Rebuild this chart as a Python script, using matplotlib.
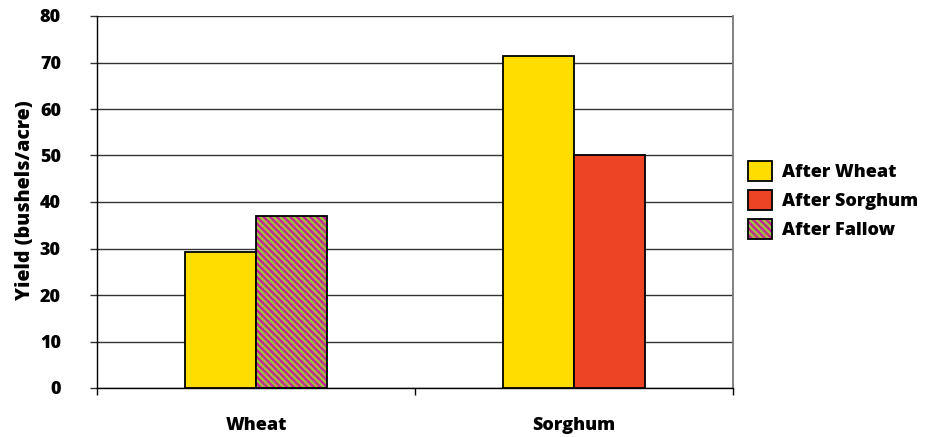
import numpy as np
import matplotlib
matplotlib.use("Agg")
import matplotlib.pyplot as plt
from matplotlib.patches import Patch
from matplotlib.legend_handler import HandlerTuple

categories = ["Wheat", "Sorghum"]
after_wheat = [29.3, 71.4]
after_sorghum = [np.nan, 50.1]
after_fallow = [37.0, np.nan]
series_names = ["After Wheat", "After Sorghum", "After Fallow"]
yticks = [0, 10, 20, 30, 40, 50, 60, 70, 80]

yellow = "#FFDD00"
red = "#EE4426"
green = "#9CCB3B"
magenta = "#C41E9A"
hatch = "\\" * 5

plt.rcParams["font.family"] = ["Open Sans", "DejaVu Sans"]
plt.rcParams["font.weight"] = 800
plt.rcParams["hatch.linewidth"] = 1.7

fig = plt.figure(figsize=(9.36, 4.37), dpi=100)
ax = fig.add_axes([97 / 936, 49 / 437, 636 / 936, 372 / 437])

x = np.arange(len(categories))
w = 0.222

ax.bar(x - w / 2, after_wheat, w, color=yellow, edgecolor="black", linewidth=1.3, zorder=3)
ax.bar(x + w / 2, after_sorghum, w, color=red, edgecolor="black", linewidth=1.3, zorder=3)
# hatched fill first, then black outline over it
ax.bar(x + w / 2, after_fallow, w, color=green, edgecolor=magenta, hatch=hatch,
       linewidth=0, zorder=3)
ax.bar(x + w / 2, after_fallow, w, facecolor="none", edgecolor="black", linewidth=1.3, zorder=4)

ax.set_xlim(-0.5, len(categories) - 0.5)
ax.set_ylim(0, 80)
ax.set_yticks(yticks)
ax.set_yticklabels([str(t) for t in yticks], fontsize=13, fontweight=800)
ax.set_xticks(x)
ax.set_xticklabels(categories, fontsize=13, fontweight=800)
ax.set_xticks(np.arange(-0.5, len(categories), 1.0), minor=True)
ax.tick_params(axis="x", which="major", length=0, pad=21)
ax.tick_params(axis="x", which="minor", length=5, width=1, direction="out", color="black")
ax.tick_params(axis="y", length=5, width=1, direction="out", pad=21, color="#333333")

ax.grid(axis="y", color="#333333", linewidth=1, zorder=0)
ax.set_axisbelow(True)
ax.spines["top"].set_visible(False)
ax.spines["right"].set_color("#777777")
ax.spines["right"].set_linewidth(1.3)
ax.spines["left"].set_linewidth(1)
ax.spines["bottom"].set_linewidth(1)

ax.set_ylabel("Yield (bushels/acre)", fontsize=14, fontweight=800)
ax.yaxis.set_label_coords(-0.097, 0.505)

handles = [
    Patch(facecolor=yellow, edgecolor="black", linewidth=1.3),
    Patch(facecolor=red, edgecolor="black", linewidth=1.3),
    (Patch(facecolor=green, edgecolor=magenta, hatch=hatch, linewidth=0),
     Patch(facecolor="none", edgecolor="black", linewidth=1.3)),
]
fig.legend(handles, series_names, loc="center left",
           bbox_to_anchor=(748 / 936, (437 - 200) / 437),
           frameon=False, prop={"weight": 800, "size": 13},
           handlelength=1.33, handleheight=1.33, handletextpad=0.55,
           labelspacing=0.5, borderpad=0, borderaxespad=0,
           handler_map={tuple: HandlerTuple(ndivide=1, pad=0)})

fig.savefig("out.png", dpi=100)
